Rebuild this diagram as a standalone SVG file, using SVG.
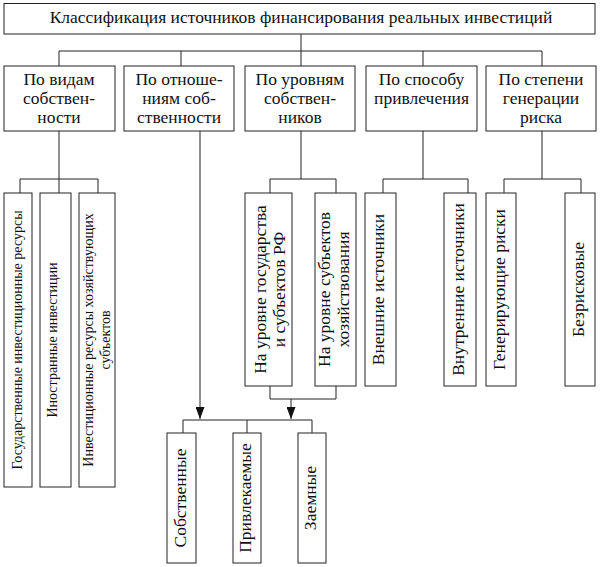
<svg xmlns="http://www.w3.org/2000/svg" width="600" height="567" viewBox="0 0 600 567">
<defs>
<style>
.box{fill:#fff;stroke:#222;stroke-width:1}
.ln{fill:none;stroke:#222;stroke-width:1}
.t{font-family:'Liberation Serif',serif;font-size:17.5px;fill:#111;text-anchor:middle}
.s{font-family:'Liberation Serif',serif;font-size:14px;fill:#111;text-anchor:middle}
</style>
<marker id="ah" viewBox="0 0 12 9" refX="12" refY="4.5" markerWidth="12" markerHeight="9" markerUnits="userSpaceOnUse" orient="auto">
<path d="M0,0 L12,4.5 L0,9 z" fill="#111"/>
</marker>
</defs>
<rect width="600" height="567" fill="#fff"/>

<g id="connectors">
<path class="ln" d="M301,34V51M59,51H542M59,51V66M181,51V66M301,51V66M423,51V66M542,51V66"/>
<path class="ln" d="M59,131V193M20,179H98M20,179V193M98,179V193"/>
<path class="ln" d="M200,131V419" marker-end="url(#ah)"/>
<path class="ln" d="M301,131V179M270,179H336M270,179V193M336,179V193"/>
<path class="ln" d="M423,131V179M383,179H468M383,179V193M468,179V193"/>
<path class="ln" d="M542,131V179M504,179H581M504,179V193M581,179V193"/>
<path class="ln" d="M270,386V399H336V386"/>
<path class="ln" d="M291,399V419" marker-end="url(#ah)"/>
<path class="ln" d="M183,420H312M183,420V433M247,420V433M312,420V433"/>
</g>

<g id="title"><rect class="box" x="4" y="3.5" width="591" height="30.5"/>
<text class="t" x="301" y="23">Классификация источников финансирования реальных инвестиций</text></g>

<g id="n1"><rect class="box" x="4" y="66" width="111" height="65"/>
<text class="t" x="59" y="85">По видам</text><text class="t" x="59" y="104">собствен-</text><text class="t" x="59" y="123">ности</text></g>
<g id="n2"><rect class="box" x="124" y="66" width="110" height="65"/>
<text class="t" x="179" y="85">По отноше-</text><text class="t" x="179" y="104">ниям соб-</text><text class="t" x="179" y="123">ственности</text></g>
<g id="n3"><rect class="box" x="245" y="66" width="110" height="65"/>
<text class="t" x="300" y="85">По уровням</text><text class="t" x="300" y="104">собствен-</text><text class="t" x="300" y="123">ников</text></g>
<g id="n4"><rect class="box" x="366" y="66" width="111" height="65"/>
<text class="t" x="421.5" y="85">По способу</text><text class="t" x="421.5" y="104">привлечения</text></g>
<g id="n5"><rect class="box" x="486" y="66" width="110" height="65"/>
<text class="t" x="541" y="85">По степени</text><text class="t" x="541" y="104">генерации</text><text class="t" x="541" y="123">риска</text></g>

<g id="n1a"><rect class="box" x="4" y="193" width="28" height="294"/>
<text class="s" transform="translate(22,340) rotate(-90)">Государственные инвестиционные ресурсы</text></g>
<g id="n1b"><rect class="box" x="40" y="193" width="31" height="294"/>
<text class="s" transform="translate(57,340) rotate(-90)">Иностранные инвестиции</text></g>
<g id="n1c"><rect class="box" x="79" y="193" width="36" height="294"/>
<text class="s" transform="translate(92.5,340) rotate(-90)">Инвестиционные ресурсы хозяйствующих</text>
<text class="s" transform="translate(109.5,340) rotate(-90)">субъектов</text></g>

<g id="n3a"><rect class="box" x="245" y="193" width="47" height="193"/>
<text class="t" transform="translate(266,289.5) rotate(-90)">На уровне государства</text>
<text class="t" transform="translate(285,289.5) rotate(-90)">и субъектов РФ</text></g>
<g id="n3b"><rect class="box" x="315" y="193" width="41" height="193"/>
<text class="t" transform="translate(329.5,289.5) rotate(-90)">На уровне субъектов</text>
<text class="t" transform="translate(348.5,289.5) rotate(-90)">хозяйствования</text></g>

<g id="n4a"><rect class="box" x="365" y="193" width="31" height="193"/>
<text class="t" transform="translate(384,289.5) rotate(-90)">Внешние источники</text></g>
<g id="n4b"><rect class="box" x="444" y="193" width="32" height="193"/>
<text class="t" transform="translate(464,289.5) rotate(-90)">Внутренние источники</text></g>

<g id="n5a"><rect class="box" x="486" y="193" width="30" height="193"/>
<text class="t" transform="translate(505,289.5) rotate(-90)">Генерирующие риски</text></g>
<g id="n5b"><rect class="box" x="565" y="193" width="30" height="193"/>
<text class="t" transform="translate(584,289.5) rotate(-90)">Безрисковые</text></g>

<g id="b1"><rect class="box" x="167" y="433" width="29" height="130"/>
<text class="t" transform="translate(186,498) rotate(-90)">Собственные</text></g>
<g id="b2"><rect class="box" x="233" y="433" width="28" height="130"/>
<text class="t" transform="translate(251,498) rotate(-90)">Привлекаемые</text></g>
<g id="b3"><rect class="box" x="298" y="433" width="28" height="130"/>
<text class="t" transform="translate(316,498) rotate(-90)">Заемные</text></g>
</svg>
